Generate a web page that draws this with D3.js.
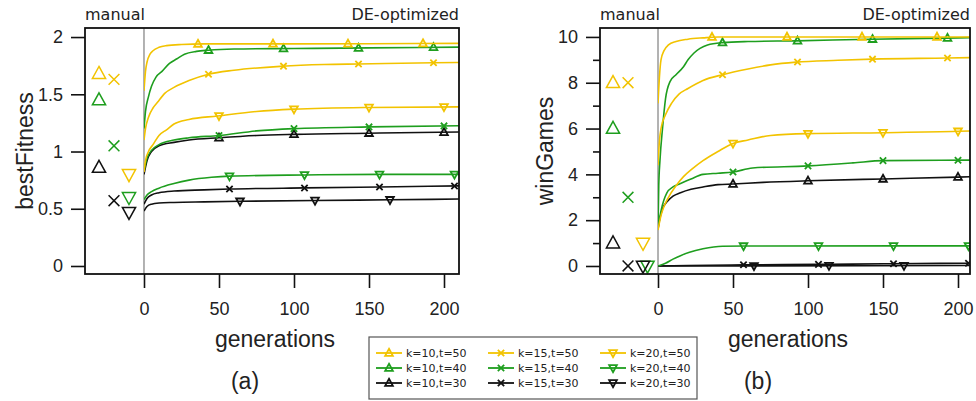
<!DOCTYPE html>
<html>
<head>
<meta charset="utf-8">
<script src="https://cdn.jsdelivr.net/npm/d3@7"></script>
<style>
body { margin: 0; background: #fff; }
</style>
</head>
<body>
<svg width="976" height="401"></svg>
<script>
// series, in legend order (column by k, row by t)
const seriesNames = ["k=10,t=50", "k=10,t=40", "k=10,t=30", "k=15,t=50", "k=15,t=40", "k=15,t=30", "k=20,t=50", "k=20,t=40", "k=20,t=30"];
const seriesK = [10, 10, 10, 15, 15, 15, 20, 20, 20];
const seriesT = [50, 40, 30, 50, 40, 30, 50, 40, 30];
// generation of the first marker on each DE curve, then every 50
const markerFirst = [36, 43, 50, 43, 50, 57, 50, 57, 64];

// manual settings, plotted left of generation 0
const manualXa = [-30, -30, -30, -20, -20, -20, -10, -10, -10];
const manualXb = [-30, -30, -30, -20, -20, -20, -10, -7, -10];
const manualFitness = [1.68, 1.45, 0.86, 1.63, 1.05, 0.57, 0.80, 0.60, 0.47];
const manualWins = [8, 6, 1, 8, 3, 0, 1, 0, 0];

// DE-optimized runs: [generation, value]
const fitnessCurves = [
  [[0,1.53],[1,1.7],[2,1.78],[4,1.85],[6,1.88],[10,1.91],[15,1.925],[25,1.935],[40,1.94],[100,1.94],[150,1.942],[210,1.945]],
  [[0,1.2],[1,1.35],[3,1.48],[5,1.57],[8,1.65],[12,1.7],[17,1.77],[22,1.81],[27,1.85],[35,1.875],[43,1.885],[60,1.895],[100,1.9],[150,1.905],[210,1.912]],
  [[0,0.8],[2,0.92],[5,1.0],[10,1.05],[20,1.08],[30,1.1],[50,1.12],[75,1.14],[100,1.15],[150,1.16],[210,1.17]],
  [[0,1.1],[1,1.2],[3,1.3],[6,1.38],[9,1.43],[14,1.51],[20,1.56],[30,1.62],[43,1.675],[60,1.71],[92,1.745],[120,1.76],[143,1.765],[193,1.775],[210,1.778]],
  [[0,0.83],[2,0.94],[5,1.01],[10,1.06],[20,1.1],[30,1.12],[50,1.14],[75,1.18],[100,1.2],[150,1.215],[210,1.225]],
  [[0,0.54],[2,0.59],[5,0.62],[10,0.64],[20,0.655],[40,0.665],[57,0.672],[107,0.682],[157,0.69],[210,0.7]],
  [[0,0.82],[1,0.92],[3,1.0],[6,1.06],[10,1.14],[15,1.19],[20,1.24],[30,1.28],[49,1.31],[75,1.35],[100,1.37],[150,1.385],[210,1.39]],
  [[0,0.58],[2,0.62],[5,0.65],[10,0.68],[20,0.72],[30,0.75],[45,0.775],[57,0.785],[107,0.795],[157,0.8],[210,0.8]],
  [[0,0.48],[2,0.52],[5,0.54],[10,0.55],[20,0.555],[40,0.56],[64,0.565],[114,0.572],[164,0.578],[210,0.585]]
];
const winCurves = [
  [[0,7.1],[1,8.3],[2,9.0],[4,9.4],[7,9.65],[12,9.8],[20,9.9],[30,9.96],[40,10],[210,10]],
  [[0,1.6],[0.5,3.5],[1.3,4.6],[3,6.0],[5,7.3],[8,8.05],[12,8.35],[17,8.7],[20,9.0],[24,9.3],[28,9.5],[33,9.65],[43,9.75],[60,9.8],[92,9.83],[142,9.9],[192,9.95],[210,9.97]],
  [[0,1.6],[1,2.0],[3,2.5],[6,2.8],[10,3.05],[15,3.2],[22,3.35],[30,3.45],[40,3.55],[50,3.58],[70,3.65],[100,3.72],[150,3.8],[200,3.88],[210,3.9]],
  [[0,4.4],[1,5.5],[2,6.0],[5,6.6],[9,7.1],[14,7.5],[20,7.75],[30,8.1],[43,8.35],[60,8.6],[75,8.78],[92,8.9],[120,8.98],[143,9.03],[193,9.08],[210,9.1]],
  [[0,1.65],[2,2.4],[6,3.2],[10,3.45],[15,3.6],[22,3.8],[30,4.0],[40,4.05],[50,4.1],[63,4.28],[100,4.37],[130,4.5],[150,4.6],[210,4.62]],
  [[0,0],[20,0.02],[57,0.05],[107,0.07],[157,0.1],[210,0.12]],
  [[0,1.57],[2,2.2],[4,2.6],[7,3.0],[12,3.5],[17,3.9],[23,4.25],[30,4.6],[40,5.0],[50,5.35],[60,5.5],[75,5.7],[100,5.78],[150,5.82],[200,5.88],[210,5.9]],
  [[0,0],[5,0.12],[10,0.3],[15,0.45],[21,0.6],[30,0.75],[43,0.86],[57,0.87],[210,0.88]],
  [[0,0],[210,0.02]]
];

const genTicks = [0, 50, 100, 150, 200];
const fitnessTicks = [0, 0.5, 1, 1.5, 2];
const winTicks = [0, 2, 4, 6, 8, 10];
const winMinorTicks = [1, 3, 5, 7, 9];

const colorByT = { 50: "#f2c300", 40: "#1e9e1e", 30: "#111111" };
const shapeByK = { 10: "up", 15: "cross", 20: "down" };
const tickFont = "'Liberation Sans', Arial, sans-serif";
const labelFont = "'DejaVu Sans', Verdana, sans-serif";

const svg = d3.select("svg");

function symbolPath(kind, s) {
  if (kind === "up") return `M0,${-s * 0.6}L${s * 0.55},${s * 0.4}L${-s * 0.55},${s * 0.4}Z`;
  if (kind === "down") return `M0,${s * 0.6}L${s * 0.55},${-s * 0.4}L${-s * 0.55},${-s * 0.4}Z`;
  const a = s * 0.45;
  return `M${-a},${-a}L${a},${a}M${-a},${a}L${a},${-a}`;
}

// find the point of a path (monotone in x) at a given screen x
function pointAtX(node, px) {
  let lo = 0, hi = node.getTotalLength();
  for (let i = 0; i < 40; i++) {
    const mid = (lo + hi) / 2;
    if (node.getPointAtLength(mid).x < px) lo = mid; else hi = mid;
  }
  return node.getPointAtLength(lo);
}

function drawPanel(p) {
  const g = svg.append("g");
  const x = d3.scaleLinear().domain(p.xDomain).range([p.left, p.right]);
  const y = d3.scaleLinear().domain(p.yDomain).range([p.bottom, p.top]);

  const clipId = "clip-" + p.tag;
  svg.append("clipPath").attr("id", clipId)
    .append("rect")
    .attr("x", x(0)).attr("y", p.top)
    .attr("width", p.right - x(0)).attr("height", p.bottom - p.top);

  // x axis, only under the DE part
  const xAxis = g.append("g")
    .attr("transform", `translate(0,${p.bottom})`)
    .call(d3.axisBottom(x).tickValues(genTicks).tickSize(14).tickPadding(14).tickSizeOuter(0));
  xAxis.select(".domain").remove();

  const yAxis = g.append("g")
    .attr("transform", `translate(${p.left},0)`)
    .call(d3.axisLeft(y).tickValues(p.yTicks).tickFormat(d => String(d))
      .tickSize(14).tickPadding(8).tickSizeOuter(0));
  yAxis.select(".domain").remove();

  if (p.yMinor) {
    const minor = g.append("g")
      .attr("transform", `translate(${p.left},0)`)
      .call(d3.axisLeft(y).tickValues(p.yMinor).tickSize(7).tickFormat(""));
    minor.select(".domain").remove();
  }

  g.selectAll(".tick line").attr("stroke", "#111").attr("stroke-width", 1.6);
  g.selectAll(".tick text")
    .attr("font-family", tickFont).attr("font-size", 18).attr("fill", "#222");

  // separator between manual and DE
  g.append("line")
    .attr("x1", x(0)).attr("x2", x(0))
    .attr("y1", p.top).attr("y2", p.bottom)
    .attr("stroke", "#666").attr("stroke-width", 1);

  const line = d3.line()
    .x(d => x(d[0])).y(d => y(d[1]))
    .curve(d3.curveMonotoneX);

  const order = [2, 5, 8, 1, 4, 7, 0, 3, 6];
  const curveG = g.append("g").attr("clip-path", `url(#${clipId})`);
  order.forEach(i => {
    const col = colorByT[seriesT[i]];
    const path = curveG.append("path")
      .datum(p.curves[i])
      .attr("fill", "none")
      .attr("stroke", col)
      .attr("stroke-width", 1.6)
      .attr("d", line);
    const marks = d3.range(markerFirst[i], p.xDomain[1], 50);
    marks.forEach(m => {
      const pt = pointAtX(path.node(), x(m));
      curveG.append("path")
        .attr("transform", `translate(${pt.x},${pt.y})`)
        .attr("d", symbolPath(shapeByK[seriesK[i]], 7))
        .attr("fill", "none")
        .attr("stroke", col)
        .attr("stroke-width", 1.8);
    });
  });

  // manual markers
  g.append("g").selectAll("path")
    .data(p.manual)
    .join("path")
    .attr("transform", (d, i) => `translate(${x(p.manualX[i])},${y(d)})`)
    .attr("d", (d, i) => symbolPath(shapeByK[seriesK[i]], 12))
    .attr("fill", "none")
    .attr("stroke", (d, i) => colorByT[seriesT[i]])
    .attr("stroke-width", 1.5);

  // frame
  g.append("rect")
    .attr("x", p.left).attr("y", p.top)
    .attr("width", p.right - p.left).attr("height", p.bottom - p.top)
    .attr("fill", "none").attr("stroke", "#111").attr("stroke-width", 1.8);

  g.append("text")
    .attr("x", p.left).attr("y", 20)
    .attr("font-family", labelFont).attr("font-size", 16).attr("fill", "#222")
    .text("manual");
  g.append("text")
    .attr("x", p.right).attr("y", 20).attr("text-anchor", "end")
    .attr("font-family", labelFont).attr("font-size", 16).attr("fill", "#222")
    .text("DE-optimized");

  g.append("text")
    .attr("transform", `translate(${p.yLabelX},${(p.top + p.bottom) / 2}) rotate(-90)`)
    .attr("text-anchor", "middle")
    .attr("font-family", tickFont).attr("font-size", 23).attr("fill", "#222")
    .text(p.yLabel);

  g.append("text")
    .attr("x", (p.left + p.right) / 2 + 3).attr("y", 347)
    .attr("text-anchor", "middle")
    .attr("font-family", tickFont).attr("font-size", 23).attr("fill", "#222")
    .text("generations");

  g.append("text")
    .attr("x", (p.left + p.right) / 2 - 27).attr("y", 389)
    .attr("text-anchor", "middle")
    .attr("font-family", tickFont).attr("font-size", 23).attr("fill", "#222")
    .text(`(${p.tag})`);
}

drawPanel({
  tag: "a", left: 85, right: 459, top: 28, bottom: 274,
  xDomain: [-39.33, 210], yDomain: [-0.07, 2.079],
  yTicks: fitnessTicks, yMinor: null,
  curves: fitnessCurves, manual: manualFitness, manualX: manualXa,
  yLabel: "bestFitness", yLabelX: 33
});
drawPanel({
  tag: "b", left: 600, right: 970, top: 28, bottom: 274,
  xDomain: [-38.67, 208], yDomain: [-0.35, 10.39],
  yTicks: winTicks, yMinor: winMinorTicks,
  curves: winCurves, manual: manualWins, manualX: manualXb,
  yLabel: "winGames", yLabelX: 553
});

// legend
const legend = svg.append("g");
legend.append("rect")
  .attr("x", 369).attr("y", 337).attr("width", 328).attr("height", 62)
  .attr("fill", "#fff").attr("stroke", "#555").attr("stroke-width", 1.2);

const legendCol = d3.scalePoint().domain([10, 15, 20]).range([376, 600]);
const legendRow = d3.scalePoint().domain([50, 40, 30]).range([353, 383]);

seriesNames.forEach((name, i) => {
  const lx = legendCol(seriesK[i]);
  const ly = legendRow(seriesT[i]);
  const col = colorByT[seriesT[i]];
  legend.append("line")
    .attr("x1", lx).attr("x2", lx + 26).attr("y1", ly).attr("y2", ly)
    .attr("stroke", col).attr("stroke-width", 1.8);
  legend.append("path")
    .attr("transform", `translate(${lx + 13},${ly})`)
    .attr("d", symbolPath(shapeByK[seriesK[i]], 7))
    .attr("fill", "none").attr("stroke", col).attr("stroke-width", 1.8);
  legend.append("text")
    .attr("x", lx + 30).attr("y", ly)
    .attr("dy", "0.35em")
    .attr("font-family", labelFont).attr("font-size", 11).attr("fill", "#222")
    .text(name);
});
</script>
</body>
</html>
